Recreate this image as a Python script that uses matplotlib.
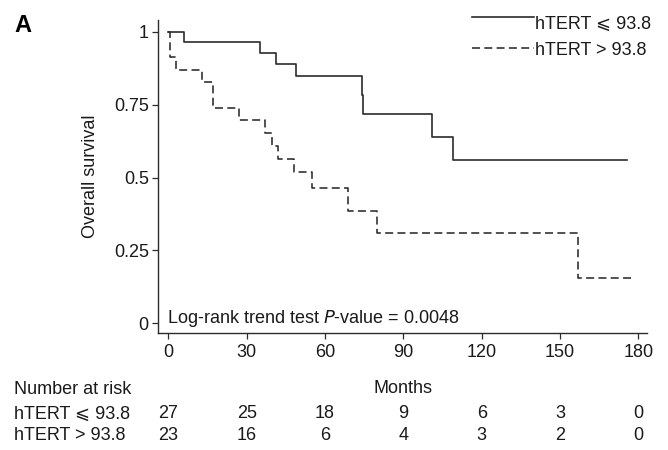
import matplotlib
matplotlib.use("Agg")
import matplotlib.pyplot as plt
from matplotlib.lines import Line2D
from matplotlib.transforms import blended_transform_factory

plt.rcParams['font.family'] = ['Liberation Sans', 'DejaVu Sans']

# Kaplan-Meier step data
low_t = [0, 6.0, 35.1, 41.1, 48.8, 74.1, 74.7, 100.9, 108.9, 175.8]
low_s = [1.0, 0.963, 0.926, 0.889, 0.848, 0.783, 0.717, 0.639, 0.559, 0.559]
high_t = [0, 0.65, 2.9, 12.9, 17.0, 27.1, 37.0, 39.8, 41.9, 48.0, 54.9, 68.9, 79.8, 156.8, 178.1]
high_s = [1.0, 0.913, 0.870, 0.826, 0.739, 0.696, 0.652, 0.609, 0.565, 0.520, 0.463, 0.385, 0.309, 0.154, 0.154]

label_low = "hTERT ⩽ 93.8"
label_high = "hTERT > 93.8"

xticks = [0, 30, 60, 90, 120, 150, 180]
yticks = [0, 0.25, 0.5, 0.75, 1]
ytick_labels = ["0", "0.25", "0.5", "0.75", "1"]

risk_times = [0, 30, 60, 90, 120, 150, 180]
risk_low = [27, 25, 18, 9, 6, 3, 0]
risk_high = [23, 16, 6, 4, 3, 2, 0]

FS = 13
TC = '#1a1a1a'
W, H = 668, 450
fig = plt.figure(figsize=(W / 100, H / 100), dpi=100)
ax = fig.add_axes([158.3 / W, 1 - 332.7 / H, (647.3 - 158.3) / W, (332.7 - 20) / H])

col = '#2b2b2b'
solid_style = dict(color=col, lw=1.2, linestyle='-')
dash_style = dict(color=col, lw=1.15, linestyle=(0, (5.0, 2.7)))

ax.step(low_t, low_s, where='post', **solid_style)
ax.step(high_t, high_s, where='post', **dash_style)

ax.set_xlim(-3.83, 183.4)
ax.set_ylim(-0.032, 1.040)
ax.set_xticks(xticks)
ax.set_xticklabels([str(t) for t in xticks])
ax.set_yticks(yticks)
ax.set_yticklabels(ytick_labels)
for s in ['top', 'right']:
    ax.spines[s].set_visible(False)
for s in ['left', 'bottom']:
    ax.spines[s].set_linewidth(1.0)
    ax.spines[s].set_color(col)
ax.tick_params(axis='both', direction='out', length=4.3, width=0.9, color=col,
               labelsize=FS, labelcolor=TC)
ax.tick_params(axis='x', pad=4.0)
ax.tick_params(axis='y', pad=2.5)

ax.set_ylabel("Overall survival", fontsize=FS, color=TC)
ax.yaxis.set_label_coords((99 - 158.3) / (647.3 - 158.3), 0.5)

ax.text(-0.6, 0.002, "Log-rank trend test $\\it{P}$-value = 0.0048", fontsize=FS,
        va='baseline', ha='left', color=TC)

# legend drawn manually
fig.add_artist(Line2D([471.7 / W, 534 / W], [1 - 17.3 / H, 1 - 17.3 / H],
                      transform=fig.transFigure, **solid_style))
fig.add_artist(Line2D([471.7 / W, 534 / W], [1 - 47.5 / H, 1 - 47.5 / H],
                      transform=fig.transFigure, **dash_style))
fig.text(535 / W, 1 - 28.3 / H, label_low, fontsize=FS, va='baseline', ha='left', color=TC)
fig.text(535 / W, 1 - 55 / H, label_high, fontsize=FS, va='baseline', ha='left', color=TC)

# panel letter
fig.text(14 / W, 1 - 32 / H, "A", fontsize=17, fontweight='bold', va='baseline', ha='left')

# number at risk table
trans = blended_transform_factory(ax.transData, fig.transFigure)
fig.text(14 / W, 1 - 393.8 / H, "Number at risk", fontsize=FS, va='baseline', ha='left', color=TC)
ax.text(90, 1 - 393.3 / H, "Months", fontsize=FS, va='baseline', ha='center',
        transform=trans, color=TC)
fig.text(14 / W, 1 - 418.3 / H, label_low, fontsize=FS, va='baseline', ha='left', color=TC)
fig.text(14 / W, 1 - 440.5 / H, label_high, fontsize=FS, va='baseline', ha='left', color=TC)
for t, a, b in zip(risk_times, risk_low, risk_high):
    ax.text(t, 1 - 418.3 / H, str(a), fontsize=FS, va='baseline', ha='center',
            transform=trans, color=TC, clip_on=False)
    ax.text(t, 1 - 440.5 / H, str(b), fontsize=FS, va='baseline', ha='center',
            transform=trans, color=TC, clip_on=False)

fig.savefig("out.png", dpi=100)
